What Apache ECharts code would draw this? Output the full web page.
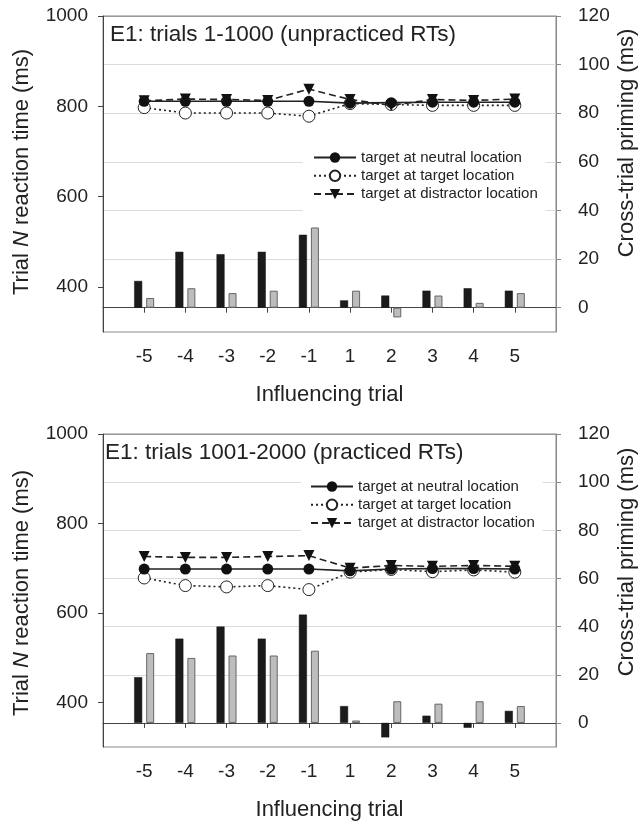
<!DOCTYPE html>
<html>
<head>
<meta charset="utf-8">
<script src="https://cdn.jsdelivr.net/npm/echarts@6/dist/echarts.min.js"></script>
<style>html,body{margin:0;padding:0;background:#fff;}#c{width:641px;height:822px;}</style>
</head>
<body>
<div id="c"></div>
<script>
// ---- data ----
const categories = ['-5','-4','-3','-2','-1','1','2','3','4','5'];
const seriesNames = ['target at neutral location','target at target location','target at distractor location'];
const leftTicks = [400, 600, 800, 1000];
const rightTicks = [0, 20, 40, 60, 80, 100, 120];
const panelTitles = ['E1: trials 1-1000 (unpracticed RTs)', 'E1: trials 1001-2000 (practiced RTs)'];

const top_neutral = [811,811,811,811,811,807,808,809,809,809];
const top_target = [797,785,785,785,778,806,804,802,802,802];
const top_distractor = [812,816,815,813,838,815,802,815,813,816];
const top_primingBlack = [11,23,22,23,30,3,5,7,8,7];
const top_primingGray = [4,8,6,7,33,7,-4,5,2,6];

const bottom_neutral = [698,698,698,698,698,694,698,699,699,698];
const bottom_target = [678,661,658,661,652,691,697,692,696,691];
const bottom_distractor = [726,724,724,726,728,700,706,704,706,704];
const bottom_primingBlack = [19,35,40,35,45,7,-6,3,-2,5];
const bottom_primingGray = [29,27,28,28,30,1,9,8,9,7];

// ---- chart ----
const FF = '"Liberation Sans", Arial, Helvetica, sans-serif';
const axisCats = [' ', ...categories, '  '];
const pair = vals => categories.map((c, i) => [c, vals[i]]);

const grids = [
  {left: 103, width: 453, top: 16, height: 316},
  {left: 103, width: 453, top: 434, height: 314}
];
const panels = [
  {n: top_neutral, t: top_target, d: top_distractor, b: top_primingBlack, g: top_primingGray},
  {n: bottom_neutral, t: bottom_target, d: bottom_distractor, b: bottom_primingBlack, g: bottom_primingGray}
];

const xAxis = [], yAxis = [], series = [], legend = [], title = [];
grids.forEach((gr, gi) => {
  xAxis.push({
    gridIndex: gi, type: 'category', data: axisCats, boundaryGap: false,
    axisLine: {lineStyle: {color: '#444', width: 1}},
    axisTick: {length: 5, interval: (i) => i > 0 && i < axisCats.length - 1, lineStyle: {color: '#444'}},
    axisLabel: {interval: 0, fontSize: 19, color: '#222', margin: 15, fontFamily: FF},
    splitLine: {show: false},
    name: 'Influencing trial', nameLocation: 'middle', nameGap: 52,
    nameTextStyle: {fontSize: 22, color: '#222', fontFamily: FF}
  });
  yAxis.push({
    gridIndex: gi, type: 'value', position: 'left', min: 300, max: 1000,
    axisLine: {show: true, lineStyle: {color: '#444'}},
    axisTick: {show: true, length: 5, customValues: leftTicks, lineStyle: {color: '#444'}},
    axisLabel: {customValues: leftTicks, formatter: v => String(v), fontSize: 19, color: '#222', margin: 15, fontFamily: FF},
    splitLine: {show: false}
  });
  yAxis.push({
    gridIndex: gi, type: 'value', position: 'right', min: -10, max: 120,
    axisLine: {show: true, lineStyle: {color: '#888'}},
    axisTick: {show: true, length: 5, customValues: rightTicks, lineStyle: {color: '#888'}},
    axisLabel: {customValues: rightTicks, formatter: v => String(v), fontSize: 19, color: '#222', margin: 22, fontFamily: FF},
    splitLine: {show: true, lineStyle: {color: ['#555', '#dcdcdc', '#dcdcdc', '#dcdcdc', '#dcdcdc', '#dcdcdc', '#999'], width: 1}}
  });
  const p = panels[gi];
  const ly = gi * 2, ry = gi * 2 + 1;
  series.push({
    type: 'bar', name: 'black' + gi, xAxisIndex: gi, yAxisIndex: ry, data: pair(p.b),
    barWidth: 8, barGap: '50%', itemStyle: {color: '#1b1b1b', borderColor: '#111', borderWidth: 0.5}, z: 2
  });
  series.push({
    type: 'bar', name: 'gray' + gi, xAxisIndex: gi, yAxisIndex: ry, data: pair(p.g),
    barWidth: 8, barGap: '50%', itemStyle: {color: '#bdbdbd', borderColor: '#666', borderWidth: 1}, z: 2
  });
  series.push({
    type: 'line', name: seriesNames[0], xAxisIndex: gi, yAxisIndex: ly, data: pair(p.n),
    symbol: 'circle', symbolSize: 11, itemStyle: {color: '#111'},
    lineStyle: {color: '#222', width: 1.6, type: 'solid'}, z: 4
  });
  series.push({
    type: 'line', name: seriesNames[1], xAxisIndex: gi, yAxisIndex: ly, data: pair(p.t),
    symbol: 'circle', symbolSize: 12, itemStyle: {color: '#fff', borderColor: '#222', borderWidth: 1},
    lineStyle: {color: '#222', width: 1.6, type: [2, 3]}, z: 3
  });
  series.push({
    type: 'line', name: seriesNames[2], xAxisIndex: gi, yAxisIndex: ly, data: pair(p.d),
    symbol: 'triangle', symbolRotate: 180, symbolSize: 11, itemStyle: {color: '#111'},
    lineStyle: {color: '#222', width: 1.6, type: [7, 4]}, z: 5
  });
  legend.push({
    data: seriesNames, orient: 'vertical',
    left: gi === 0 ? 303 : 301, top: gi === 0 ? 145 : 474,
    backgroundColor: '#fff', padding: gi === 0 ? [5, 8, 11, 10] : [5, 8, 4, 9],
    itemWidth: 42, itemHeight: 13, itemGap: 3.3,
    textStyle: {fontSize: 15, color: '#222', fontFamily: FF, lineHeight: 15},
    selectedMode: false, z: 6
  });
  title.push({
    text: panelTitles[gi], left: gi === 0 ? 110 : 105, top: gi === 0 ? 23 : 441, padding: 0,
    textStyle: {fontSize: 22.5, fontWeight: 'normal', color: '#222', fontFamily: FF}
  });
});

const chart = echarts.init(document.getElementById('c'), null, {renderer: 'canvas'});
chart.setOption({
  animation: false,
  backgroundColor: '#fff',
  title: title,
  grid: grids.map(g => Object.assign({show: true, borderColor: '#888', borderWidth: 1, backgroundColor: 'transparent'}, g)),
  xAxis: xAxis,
  yAxis: yAxis,
  legend: legend,
  series: series,
  graphic: [
    {type: 'text', x: 22, y: 172, rotation: Math.PI / 2, z: 10,
     style: {text: 'Trial {i|N} reaction time (ms)', font: '22px ' + FF, fill: '#222', align: 'center', verticalAlign: 'middle',
       rich: {i: {fontStyle: 'italic', fontSize: 22, fontFamily: FF, fill: '#222'}}}},
    {type: 'text', x: 627, y: 143, rotation: Math.PI / 2, z: 10,
     style: {text: 'Cross-trial priming (ms)', font: '22px ' + FF, fill: '#222', align: 'center', verticalAlign: 'middle'}},
    {type: 'text', x: 22, y: 593, rotation: Math.PI / 2, z: 10,
     style: {text: 'Trial {i|N} reaction time (ms)', font: '22px ' + FF, fill: '#222', align: 'center', verticalAlign: 'middle',
       rich: {i: {fontStyle: 'italic', fontSize: 22, fontFamily: FF, fill: '#222'}}}},
    {type: 'text', x: 627, y: 562, rotation: Math.PI / 2, z: 10,
     style: {text: 'Cross-trial priming (ms)', font: '22px ' + FF, fill: '#222', align: 'center', verticalAlign: 'middle'}}
  ]
});
</script>
</body>
</html>
